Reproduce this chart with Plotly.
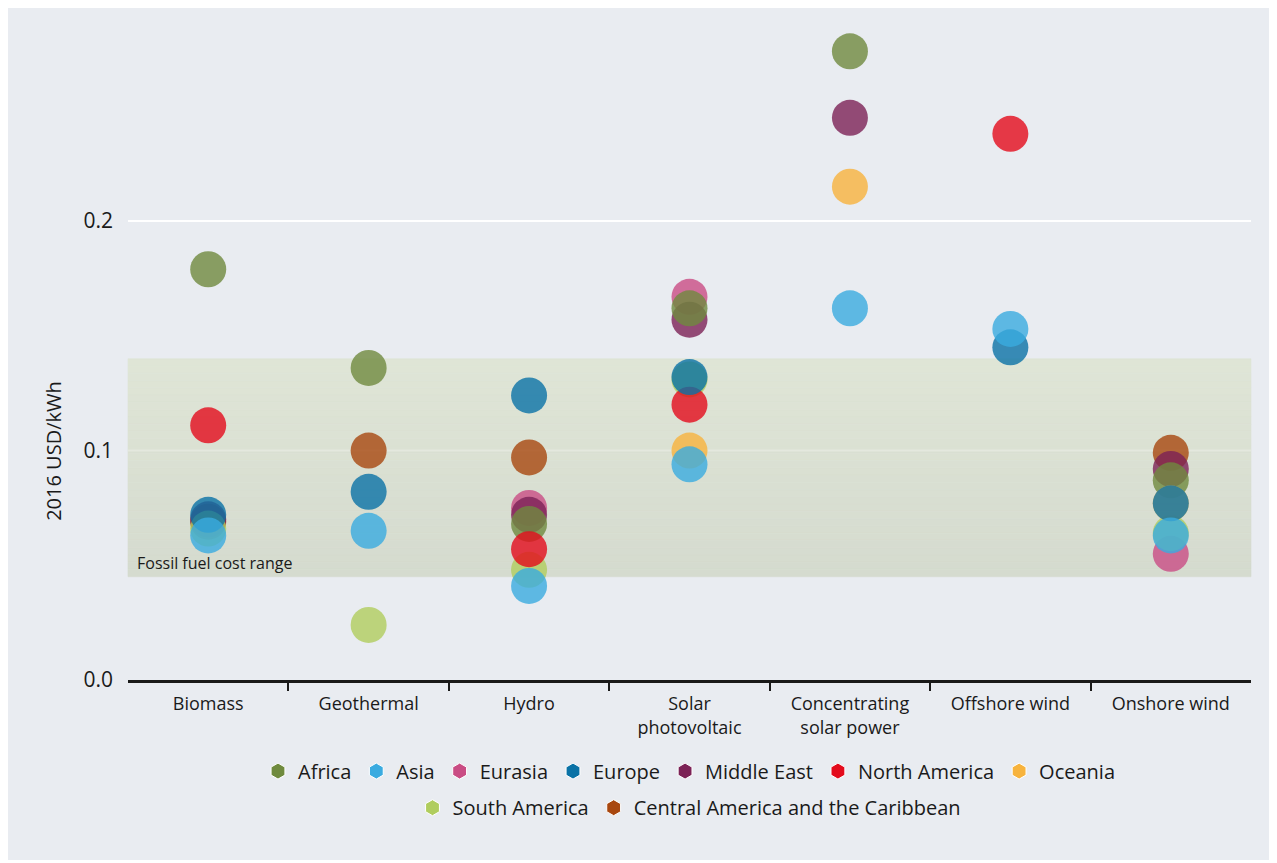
import plotly.graph_objects as go

categories = ["Biomass", "Geothermal", "Hydro", "Solar<br>photovoltaic",
              "Concentrating<br>solar power", "Offshore wind", "Onshore wind"]
cat_index = {c: i for i, c in enumerate(["Biomass", "Geothermal", "Hydro", "Solar PV",
                                          "CSP", "Offshore wind", "Onshore wind"])}

legend_order = ["Africa", "Asia", "Eurasia", "Europe", "Middle East",
                "North America", "Oceania", "South America",
                "Central America and the Caribbean"]

colors = {
    "Africa": "#6f8a3e",
    "Asia": "#3aabe0",
    "Eurasia": "#c94c84",
    "Europe": "#0a72a6",
    "Middle East": "#7c2256",
    "North America": "#e30b1c",
    "Oceania": "#f7b33d",
    "South America": "#b0cd5e",
    "Central America and the Caribbean": "#a8470f",
}

# values (2016 USD/kWh) per region: (technology, value)
africa = [("Biomass", 0.179), ("Geothermal", 0.136), ("Hydro", 0.068),
          ("Solar PV", 0.162), ("CSP", 0.274), ("Onshore wind", 0.087)]
asia = [("Biomass", 0.063), ("Geothermal", 0.065), ("Hydro", 0.041),
        ("Solar PV", 0.094), ("CSP", 0.162), ("Offshore wind", 0.153),
        ("Onshore wind", 0.063)]
eurasia = [("Hydro", 0.075), ("Solar PV", 0.167), ("Onshore wind", 0.055)]
europe = [("Biomass", 0.072), ("Geothermal", 0.082), ("Hydro", 0.124),
          ("Solar PV", 0.132), ("Offshore wind", 0.145), ("Onshore wind", 0.077)]
middle_east = [("Biomass", 0.070), ("Hydro", 0.072), ("Solar PV", 0.157),
               ("CSP", 0.245), ("Onshore wind", 0.092)]
north_america = [("Biomass", 0.111), ("Hydro", 0.057), ("Solar PV", 0.120),
                 ("Offshore wind", 0.238)]
oceania = [("Solar PV", 0.100), ("CSP", 0.215), ("Onshore wind", 0.077)]
south_america = [("Biomass", 0.066), ("Geothermal", 0.024), ("Hydro", 0.048),
                 ("Solar PV", 0.131), ("Onshore wind", 0.064)]
central_america = [("Biomass", 0.069), ("Geothermal", 0.100), ("Hydro", 0.097),
                   ("Onshore wind", 0.099)]

region_data = {
    "Africa": africa, "Asia": asia, "Eurasia": eurasia, "Europe": europe,
    "Middle East": middle_east, "North America": north_america,
    "Oceania": oceania, "South America": south_america,
    "Central America and the Caribbean": central_america,
}

draw_order = ["Central America and the Caribbean", "Eurasia", "Middle East",
              "Africa", "South America", "Oceania", "North America",
              "Europe", "Asia"]

fossil_low, fossil_high = 0.045, 0.14
y_ticks = [0, 0.1, 0.2]
y_ticktext = ["0.0", "0.1", "0.2"]

FONT = "Open Sans"
BG = "#e9ecf1"

fig = go.Figure()

for r in draw_order:
    pts = region_data[r]
    fig.add_trace(go.Scatter(
        x=[cat_index[t] for t, _ in pts], y=[v for _, v in pts],
        mode="markers", name=r, showlegend=False,
        marker=dict(size=36, color=colors[r], opacity=0.8, line=dict(width=0)),
        hoverinfo="x+y+name",
    ))

for i, r in enumerate(legend_order):
    fig.add_trace(go.Scatter(
        x=[None], y=[None], mode="markers", name=r,
        marker=dict(symbol="hexagon", size=16, color=colors[r],
                    line=dict(width=1, color="white")),
        legend="legend" if i < 7 else "legend2",
    ))

shapes = []
# fossil band with vertical gradient
n = 30
top_c = (223, 229, 214)
bot_c = (213, 219, 207)
for k in range(n):
    f = k / (n - 1)
    c = tuple(round(top_c[j] + (bot_c[j] - top_c[j]) * f) for j in range(3))
    y1 = fossil_high - (fossil_high - fossil_low) * k / n
    y0 = fossil_high - (fossil_high - fossil_low) * (k + 1) / n
    shapes.append(dict(type="rect", xref="paper", yref="y",
                       x0=0, x1=1, y0=y0, y1=y1,
                       fillcolor="rgb(%d,%d,%d)" % c,
                       line=dict(width=0.6, color="rgb(%d,%d,%d)" % c), layer="below"))
# gridlines
shapes.append(dict(type="line", xref="paper", yref="y", x0=0, x1=1,
                   y0=y_ticks[2], y1=y_ticks[2],
                   line=dict(color="white", width=2), layer="below"))
shapes.append(dict(type="line", xref="paper", yref="y", x0=0, x1=1,
                   y0=y_ticks[1], y1=y_ticks[1],
                   line=dict(color="rgba(255,255,255,0.25)", width=2), layer="below"))

fig.update_layout(
    width=1263, height=852,
    margin=dict(l=120, r=20, t=7, b=180),
    paper_bgcolor=BG, plot_bgcolor=BG,
    font=dict(family=FONT, size=18, color="#1a1a1a"),
    shapes=shapes,
    xaxis=dict(
        range=[-0.5, 6.5], tickmode="array", tickvals=list(range(7)),
        ticktext=categories, ticks="", showgrid=False, zeroline=False,
        showline=True, linecolor="#1a1a1a", linewidth=2.5,
        ticklabelstandoff=6,
        minor=dict(tickmode="array", tickvals=[0.5, 1.5, 2.5, 3.5, 4.5, 5.5],
                   ticks="outside", ticklen=8, tickwidth=1.5, tickcolor="#1a1a1a",
                   showgrid=False),
        tickfont=dict(size=18),
        fixedrange=True,
    ),
    yaxis=dict(
        range=[0, 0.2898], tickmode="array", tickvals=y_ticks,
        ticktext=y_ticktext, ticks="", showgrid=False,
        zeroline=False, showline=False,
        ticklabelstandoff=14,
        tickfont=dict(size=21),
        fixedrange=True,
    ),
    legend=dict(orientation="h", x=0.5, xanchor="center", y=-0.137,
                yanchor="middle", bgcolor="rgba(0,0,0,0)",
                font=dict(size=20), itemwidth=30, tracegroupgap=0),
    legend2=dict(orientation="h", x=0.5, xanchor="center", y=-0.192,
                 yanchor="middle", bgcolor="rgba(0,0,0,0)",
                 font=dict(size=20), itemwidth=30),
    annotations=[
        dict(text="Fossil fuel cost range", xref="paper", yref="y",
             x=0.006, y=fossil_low, xanchor="left", yanchor="bottom",
             showarrow=False, yshift=1, font=dict(size=16, color="#1a1a1a")),
        dict(text="2016 USD/kWh", xref="paper", yref="y",
             x=-0.0665, y=0.1, xanchor="center", yanchor="middle",
             textangle=-90, showarrow=False, font=dict(size=20, color="#1a1a1a")),
    ],
)

fig.write_html("out.html")
